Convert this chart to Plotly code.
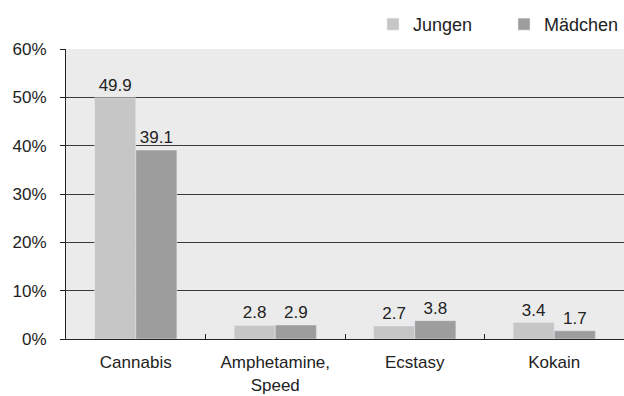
import plotly.graph_objects as go

categories = ["Cannabis", "Amphetamine,<br>Speed", "Ecstasy", "Kokain"]
jungen = [49.9, 2.8, 2.7, 3.4]
maedchen = [39.1, 2.9, 3.8, 1.7]
tick_vals = [0, 10, 20, 30, 40, 50, 60]
tick_text = ["0%", "10%", "20%", "30%", "40%", "50%", "60%"]
grid_vals = [10, 20, 30, 40, 50]

fam = "Liberation Sans, Arial, sans-serif"
font = dict(family=fam, size=17, color="#222222")
lfont = dict(family=fam, size=18, color="#222222")

fig = go.Figure()
fig.add_trace(go.Bar(name="Jungen", x=categories, y=jungen, marker_color="#c6c6c6",
                     text=[f"{v:.1f}" for v in jungen], textposition="outside",
                     textfont=font, cliponaxis=False, legend="legend"))
fig.add_trace(go.Bar(name="Mädchen", x=categories, y=maedchen, marker_color="#9d9d9d",
                     text=[f"{v:.1f}" for v in maedchen], textposition="outside",
                     textfont=font, cliponaxis=False, legend="legend2"))

leg_common = dict(orientation="h", yanchor="top", y=0.985, yref="container",
                  xref="container", xanchor="left", font=lfont,
                  bgcolor="rgba(0,0,0,0)", itemwidth=30)

fig.update_layout(
    width=624, height=396,
    margin=dict(l=66, r=0, t=49, b=57, autoexpand=False),
    paper_bgcolor="white", plot_bgcolor="#ebebeb",
    font=font,
    barmode="group", bargap=0.41, bargroupgap=0,
    showlegend=True,
    legend=dict(x=373 / 624, **leg_common),
    legend2=dict(x=504 / 624, **leg_common),
    xaxis=dict(range=[-0.5, 3.5], showline=True, linecolor="#222222", linewidth=1,
               ticks="inside", tickson="boundaries", ticklen=5, tickcolor="#222222",
               showgrid=False, tickfont=font, ticklabelstandoff=8, automargin=False),
    yaxis=dict(range=[0, 60], tickvals=tick_vals, ticktext=tick_text,
               showgrid=False, showline=True, linecolor="#222222", linewidth=1,
               ticks="outside", ticklen=5, tickcolor="#222222", zeroline=False,
               tickfont=font, automargin=False, ticklabelstandoff=10,
               minor=dict(tickvals=grid_vals, showgrid=True, gridcolor="#3a3a3a",
                          gridwidth=1, ticks="")),
)
fig.write_html("out.html")
